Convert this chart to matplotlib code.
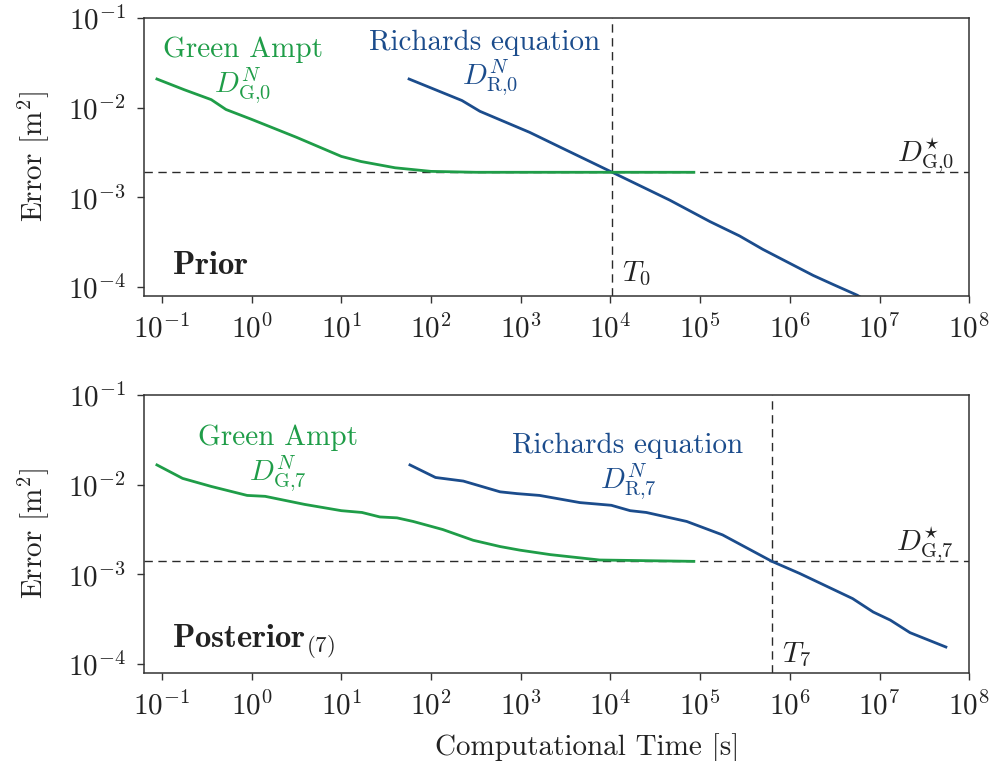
import numpy as np
import matplotlib
matplotlib.use("Agg")
import matplotlib.pyplot as plt

plt.rcParams['font.family'] = 'serif'
plt.rcParams['font.serif'] = ['cmr10', 'DejaVu Serif']
plt.rcParams['mathtext.fontset'] = 'cm'
plt.rcParams['axes.formatter.use_mathtext'] = True

# ---- data (log10 values) ----
# Prior
g0_logx = [-1.056, -0.75, -0.45, -0.286, 0.0, 0.5, 1.0, 1.22, 1.6, 2.0, 2.5, 3.0, 4.0, 4.93]
g0_logy = [-1.68, -1.80, -1.91, -2.02, -2.13, -2.33, -2.543, -2.60, -2.67, -2.71, -2.72, -2.72, -2.72, -2.72]
r0_logx = [1.755, 2.345, 2.545, 3.10, 3.44, 4.02, 4.66, 5.11, 5.44, 5.70, 6.26, 6.48, 6.75, 6.85]
r0_logy = [-1.68, -1.92, -2.04, -2.275, -2.44, -2.72, -3.03, -3.27, -3.43, -3.58, -3.87, -3.97, -4.09, -4.15]
dstar0 = 1.9e-3
T0 = 1.05e4

# Posterior (7)
g7_logx = [-1.056, -0.77, -0.45, -0.05, 0.15, 0.59, 1.0, 1.23, 1.43, 1.62, 1.80, 2.13, 2.47, 2.77, 2.99, 3.33, 3.88, 4.93]
g7_logy = [-1.78, -1.93, -2.02, -2.12, -2.13, -2.22, -2.29, -2.31, -2.36, -2.37, -2.41, -2.50, -2.62, -2.69, -2.73, -2.78, -2.84, -2.855]
r7_logx = [1.765, 2.05, 2.36, 2.77, 2.96, 3.21, 3.66, 4.01, 4.22, 4.40, 4.85, 5.25, 5.80, 6.11, 6.70, 6.93, 7.12, 7.34, 7.74]
r7_logy = [-1.78, -1.92, -1.96, -2.08, -2.10, -2.12, -2.20, -2.23, -2.29, -2.31, -2.41, -2.56, -2.855, -2.99, -3.27, -3.42, -3.51, -3.65, -3.81]
dstar7 = 1.4e-3
T7 = 6.3e5

x_ticks = [1e-1, 1e0, 1e1, 1e2, 1e3, 1e4, 1e5, 1e6, 1e7, 1e8]
y_ticks = [1e-4, 1e-3, 1e-2, 1e-1]

GREEN = '#1f9d48'
BLUE = '#1b4c8c'
DASH = '#2a2a2a'
TXT = '#222222'
FS = 21

W, H = 989, 761
fig = plt.figure(figsize=(W / 100, H / 100), dpi=100)
ax1 = fig.add_axes([0.1456, 0.611, 0.98 - 0.1456, 0.9763 - 0.611])
ax2 = fig.add_axes([0.1456, 0.1156, 0.98 - 0.1456, 0.481 - 0.1156])

def style(ax):
    ax.set_xscale('log')
    ax.set_yscale('log')
    ax.set_xlim(10 ** -1.2, 1e8)
    ax.set_ylim(10 ** -4.1, 1e-1)
    ax.set_xticks(x_ticks)
    ax.set_yticks(y_ticks)
    ax.minorticks_off()
    ax.tick_params(axis='both', which='major', labelsize=FS, length=5, width=1,
                   color='#333333', labelcolor=TXT, direction='out')
    ax.tick_params(axis='y', pad=8)
    ax.tick_params(axis='x', pad=8)
    for s in ax.spines.values():
        s.set_color('#333333')
        s.set_linewidth(1.1)
    ax.set_ylabel(r'Error [m$^2$]', fontsize=FS, labelpad=12, color=TXT)

for ax, glx, gly, rlx, rly, dstar, T in [
        (ax1, g0_logx, g0_logy, r0_logx, r0_logy, dstar0, T0),
        (ax2, g7_logx, g7_logy, r7_logx, r7_logy, dstar7, T7)]:
    style(ax)
    ax.axhline(dstar, color=DASH, lw=1.0, ls=(0, (6, 4)), zorder=1)
    ax.axvline(T, color=DASH, lw=1.0, ls=(0, (6, 4)), zorder=1)
    ax.plot(10 ** np.array(glx), 10 ** np.array(gly), color=GREEN, lw=2, zorder=3)
    ax.plot(10 ** np.array(rlx), 10 ** np.array(rly), color=BLUE, lw=2, zorder=2)

def put(xpix, ypix, s, fs=FS, **kw):
    fig.text(xpix / W, 1 - ypix / H, s, fontsize=fs, va='center', **kw)

put(243, 50, 'Green Ampt', color=GREEN, ha='center')
put(243, 86, r'$D^N_{\mathrm{G{,}0}}$', color=GREEN, ha='center')
put(485, 43, 'Richards equation', color=BLUE, ha='center')
put(490, 78, r'$D^N_{\mathrm{R{,}0}}$', color=BLUE, ha='center')
put(954, 155, r'$D^{\star}_{\mathrm{G{,}0}}$', color=TXT, ha='right')
put(622, 274, r'$T_0$', color=TXT, ha='left')
put(172, 265, r'$\mathbf{Prior}$', fs=23.5, color=TXT, ha='left')

put(278, 438, 'Green Ampt', color=GREEN, ha='center')
put(278, 474, r'$D^N_{\mathrm{G{,}7}}$', color=GREEN, ha='center')
put(628, 446, 'Richards equation', color=BLUE, ha='center')
put(628, 482, r'$D^N_{\mathrm{R{,}7}}$', color=BLUE, ha='center')
put(954, 544, r'$D^{\star}_{\mathrm{G{,}7}}$', color=TXT, ha='right')
put(782, 655, r'$T_7$', color=TXT, ha='left')
put(172, 642, r'$\mathbf{Posterior}_{(7)}$', fs=23.5, color=TXT, ha='left')

ax2.set_xlabel('Computational Time [s]', fontsize=FS, labelpad=9, color=TXT, x=0.537)

fig.savefig('out.png', dpi=100)
